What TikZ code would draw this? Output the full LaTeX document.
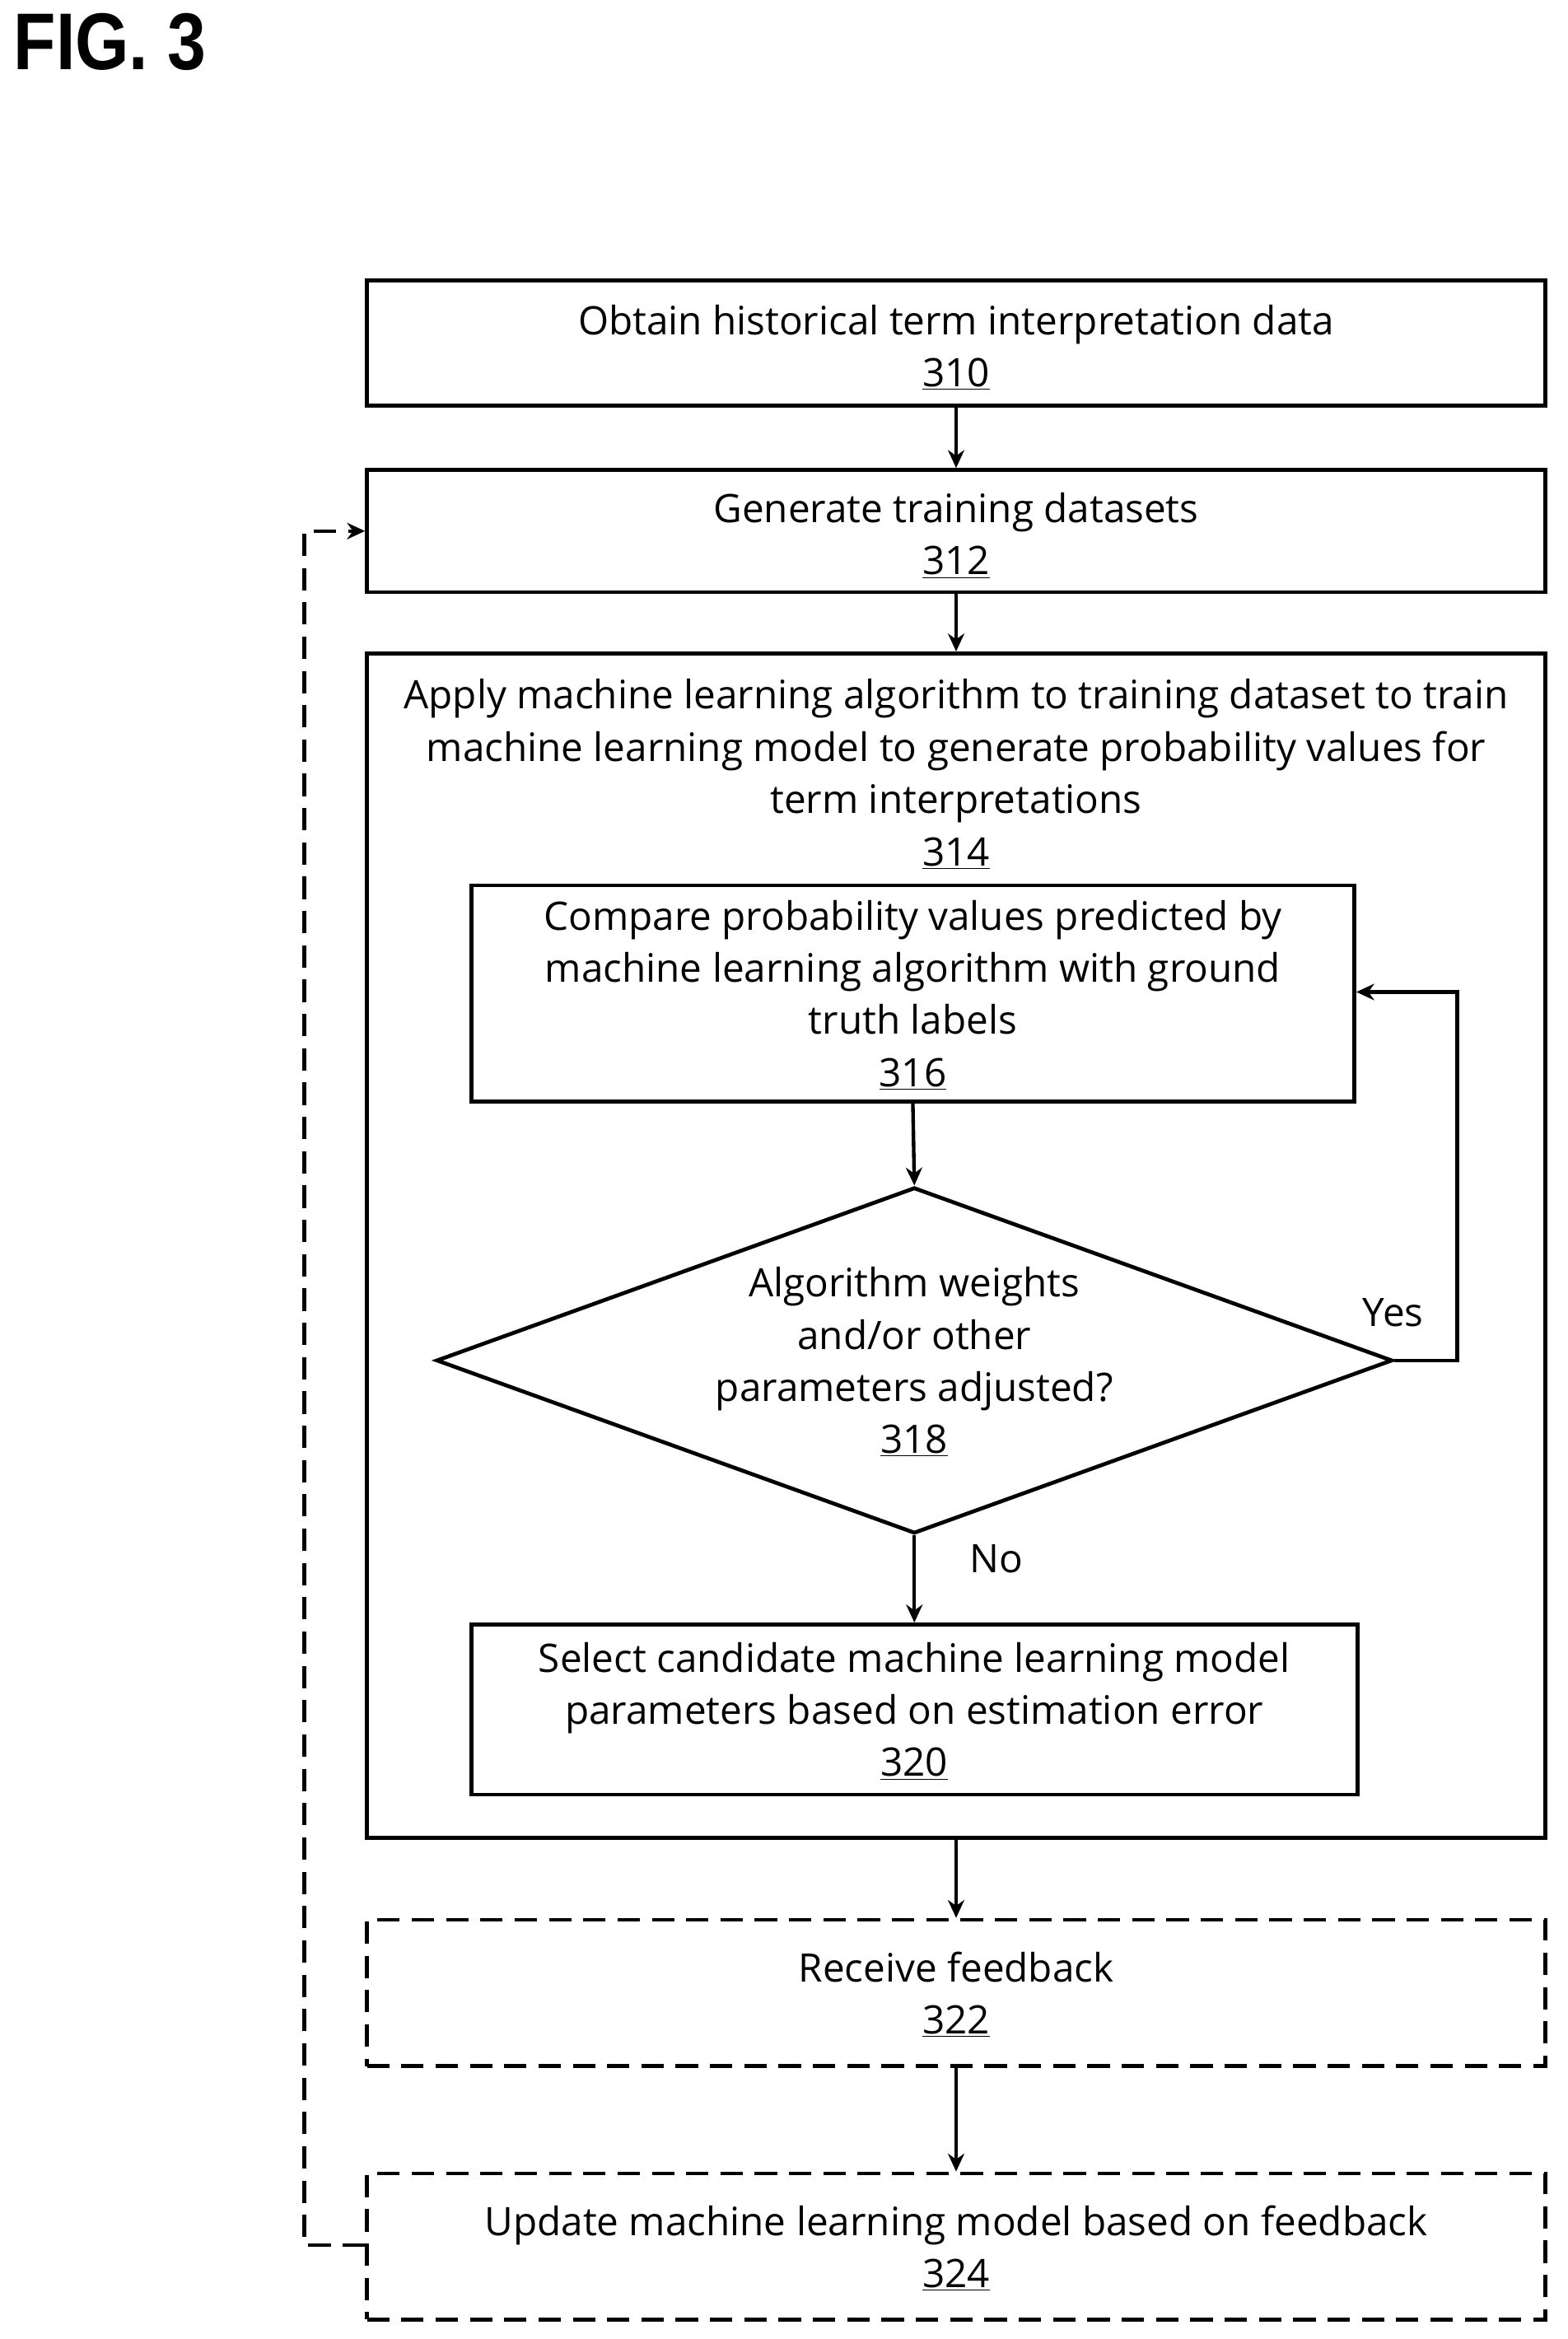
\documentclass[tikz,border=0pt]{standalone}
\usepackage{fontspec}
\setmainfont{Open Sans}
\newfontfamily\figfont{Liberation Sans}
\usetikzlibrary{shapes.geometric,arrows.meta}
\begin{document}
\begin{tikzpicture}[x=1pt,y=-1pt,
  every node/.style={font=\fontsize{26.3}{35}\selectfont,align=center,inner sep=0pt},
  box/.style={draw,line width=2.6pt,rectangle},
  dbox/.style={box,dash pattern=on 15pt off 8pt},
  arr/.style={line width=2.4pt,-{Stealth[length=12pt,width=11pt]}},
  darr/.style={arr,dash pattern=on 15pt off 8pt}]
\useasboundingbox (0,0) rectangle (1051,1568);
\node[font=\fontsize{54}{54}\selectfont\figfont\bfseries,anchor=north west,xscale=0.86] (fig) at (9,9) {FIG. 3};
\node[box,minimum width=790pt,minimum height=84pt] (b310) at (641,230) {};
\node (t310) at (641,233) {Obtain historical term interpretation data\\\underline{310}};
\node[box,minimum width=790pt,minimum height=82pt] (b312) at (641,356) {};
\node (t312) at (641,359) {Generate training datasets\\\underline{312}};
\node[box,minimum width=790pt,minimum height=794pt] (b314) at (641,835) {};
\node (t314) at (641,519) {Apply machine learning algorithm to training dataset to train\\machine learning model to generate probability values for\\term interpretations\\\underline{314}};
\node[box,minimum width=592pt,minimum height=145pt] (b316) at (612,666) {};
\node (t316) at (612,667) {Compare probability values predicted by\\machine learning algorithm with ground\\truth labels\\\underline{316}};
\node[draw,line width=2.6pt,diamond,aspect=2.76,minimum width=641pt,minimum height=232pt] (d318) at (613,912) {};
\node (t318) at (613,913) {Algorithm weights\\and/or other\\parameters adjusted?\\\underline{318}};
\node[box,minimum width=594pt,minimum height=114pt] (b320) at (613,1146) {};
\node (t320) at (613,1147) {Select candidate machine learning model\\parameters based on estimation error\\\underline{320}};
\node[dbox,minimum width=790pt,minimum height=98pt] (b322) at (641,1336) {};
\node (t322) at (641,1337) {Receive feedback\\\underline{322}};
\node[dbox,minimum width=790pt,minimum height=98pt] (b324) at (641,1506) {};
\node (t324) at (641,1507) {Update machine learning model based on feedback\\\underline{324}};
\node (yes) at (934,880) {Yes};
\node (no) at (668,1045) {No};
\coordinate (c1) at (977,912);
\coordinate (c2) at (977,665);
\coordinate (c3) at (204,1505);
\coordinate (c4) at (204,356);
\draw[arr] (b310.south) -- (b312.north);
\draw[arr] (b312.south) -- (b314.north);
\draw[arr] (b316.south) -- (d318.north);
\draw[arr] (d318.south) -- (b320.north);
\draw[arr] (b314.south) -- (b322.north);
\draw[arr] (b322.south) -- (b324.north);
\draw[arr] (d318.east) -- (c1) -- (c2) -- (b316.east |- c2);
\draw[darr] (b324.west |- c3) -- (c3) -- (c4) -- (b312.west);
\end{tikzpicture}
\end{document}
